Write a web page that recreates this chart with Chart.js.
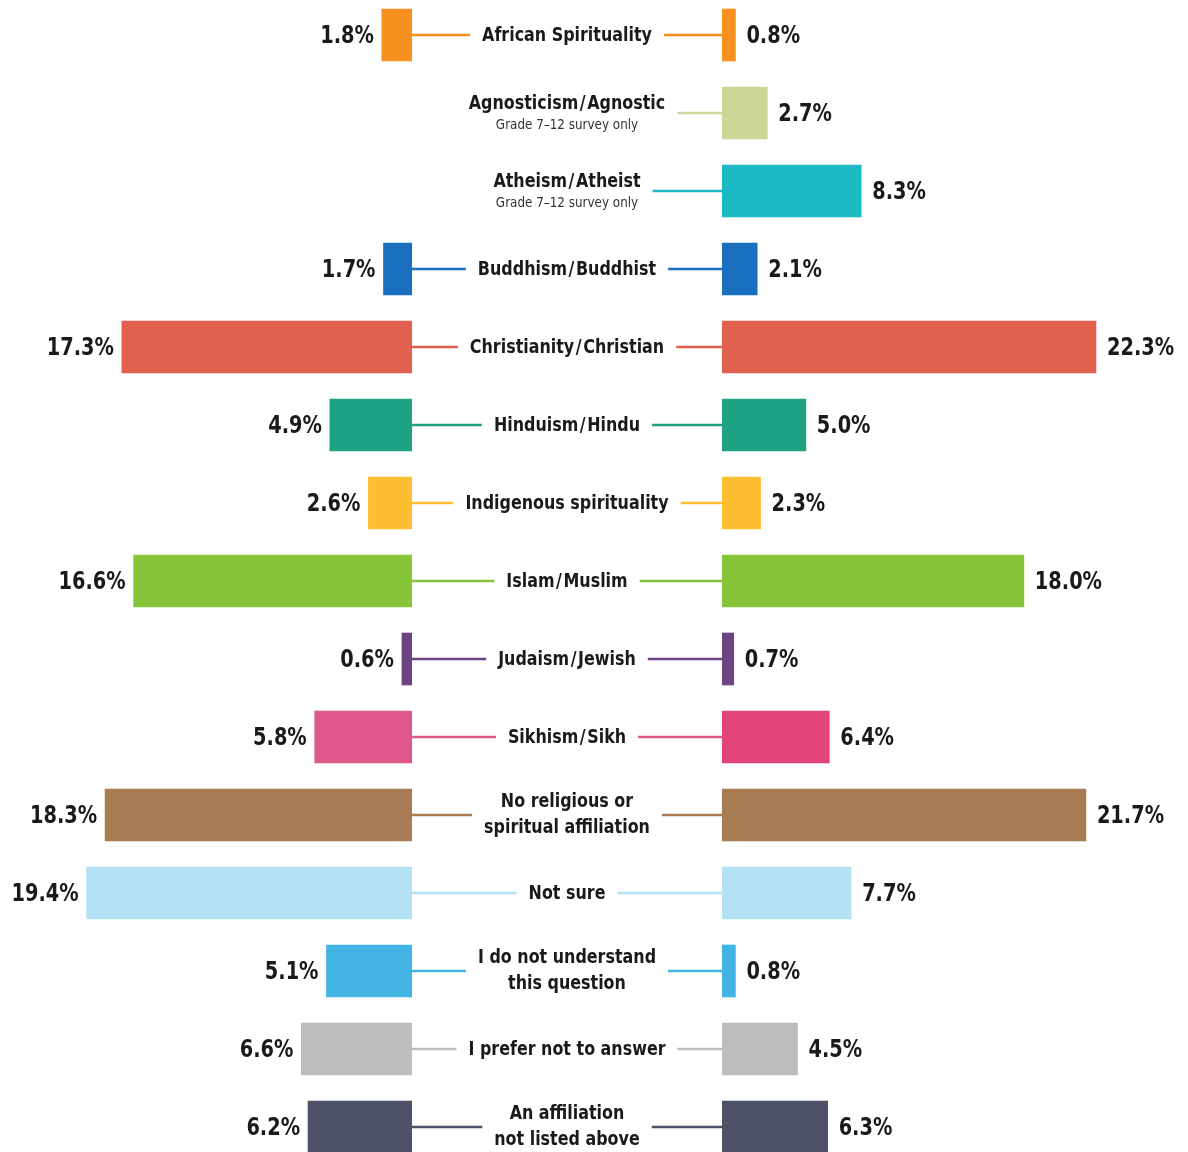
<!DOCTYPE html>
<html>
<head>
<meta charset="utf-8">
<script src="https://cdn.jsdelivr.net/npm/chart.js@4/dist/chart.umd.min.js"></script>
<style>
html,body{margin:0;padding:0;background:#fff;overflow:hidden;width:1188px;height:1152px;}
#lw{position:absolute;left:0;top:-4px;width:412px;height:1170px;}
#rw{position:absolute;left:412px;top:-4px;width:776px;height:1170px;}
</style>
</head>
<body>
<div id="lw"><canvas id="lc"></canvas></div>
<div id="rw"><canvas id="rc"></canvas></div>
<script>
const categories = [
  ["African Spirituality"],
  ["Agnosticism\u200A/\u200AAgnostic"],
  ["Atheism\u200A/\u200AAtheist"],
  ["Buddhism\u200A/\u200ABuddhist"],
  ["Christianity\u200A/\u200AChristian"],
  ["Hinduism\u200A/\u200AHindu"],
  ["Indigenous spirituality"],
  ["Islam\u200A/\u200AMuslim"],
  ["Judaism\u200A/\u200AJewish"],
  ["Sikhism\u200A/\u200ASikh"],
  ["No religious or", "spiritual affiliation"],
  ["Not sure"],
  ["I do not understand", "this question"],
  ["I prefer not to answer"],
  ["An affiliation", "not listed above"]
];
const subtitles = ["", "Grade 7\u201312 survey only", "Grade 7\u201312 survey only", "", "", "", "", "", "", "", "", "", "", "", ""];
const leftValues  = [1.8, null, null, 1.7, 17.3, 4.9, 2.6, 16.6, 0.6, 5.8, 18.3, 19.4, 5.1, 6.6, 6.2];
const rightValues = [0.8, 2.7, 8.3, 2.1, 22.3, 5.0, 2.3, 18.0, 0.7, 6.4, 21.7, 7.7, 0.8, 4.5, 6.3];
const colors = ["#F7901E","#CDD597","#1CB8C4","#1B6FBF","#E2604E","#1DA384","#FDBE31","#86C53A","#6C4481","#E0578A","#A87B53","#B3E1F3","#42B4E4","#BCBDBF","#4D5268"];
const rightColors = ["#F7901E","#CDD597","#1CB8C4","#1B6FBF","#E2604E","#1DA384","#FDBE31","#86C53A","#6C4481","#E0447B","#A87B53","#B3E1F3","#42B4E4","#BCBDBF","#4D5268"];

const FONT = "'Liberation Sans Narrow','DejaVu Sans Condensed','Roboto Condensed',sans-serif";
const TXT = "#1a1a1a";
const labelKeys = categories.map((c, i) => String(i));

function fmt(v){ return v.toFixed(1) + "%"; }

// draw text horizontally condensed
function sText(ctx, t, x, y, sx){
  ctx.save();
  ctx.translate(x, y);
  ctx.scale(sx, 1);
  ctx.fillText(t, 0, 0);
  ctx.restore();
}

const VSX = 0.86, CSX = 0.885, SSX = 0.95;

const leftLabels = {
  id: 'leftLabels',
  afterDatasetsDraw(chart){
    const ctx = chart.ctx;
    const meta = chart.getDatasetMeta(0);
    ctx.save();
    ctx.font = "bold 25px " + FONT;
    ctx.fillStyle = TXT;
    ctx.textAlign = "right";
    ctx.textBaseline = "middle";
    meta.data.forEach((bar, i) => {
      const v = leftValues[i];
      if (v == null) return;
      sText(ctx, fmt(v), bar.x - 8, bar.y + 1, VSX);
    });
    ctx.restore();
  }
};

const rightLabels = {
  id: 'rightLabels',
  afterDatasetsDraw(chart){
    const ctx = chart.ctx;
    const meta = chart.getDatasetMeta(0);
    const area = chart.chartArea;
    const cx = area.left / 2;
    ctx.save();
    ctx.textBaseline = "middle";
    meta.data.forEach((bar, i) => {
      const v = rightValues[i];
      ctx.font = "bold 25px " + FONT;
      ctx.fillStyle = TXT;
      ctx.textAlign = "left";
      sText(ctx, fmt(v), bar.x + 11, bar.y + 1, VSX);

      // center label
      const lines = categories[i];
      const sub = subtitles[i];
      ctx.font = "bold 20px " + FONT;
      let w = 0;
      lines.forEach(t => { w = Math.max(w, ctx.measureText(t).width * CSX); });
      ctx.textAlign = "center";
      const y = bar.y;
      if (sub) {
        sText(ctx, lines[0], cx, y - 9, CSX);
        ctx.font = "14px " + FONT;
        ctx.fillStyle = "#333";
        sText(ctx, sub, cx, y + 12, SSX);
      } else if (lines.length === 2) {
        sText(ctx, lines[0], cx, y - 13, CSX);
        sText(ctx, lines[1], cx, y + 13, CSX);
      } else {
        sText(ctx, lines[0], cx, y + 1, CSX);
      }
      // connectors
      ctx.strokeStyle = colors[i];
      ctx.lineWidth = 2.5;
      const gap = 12;
      ctx.beginPath();
      ctx.moveTo(cx + w / 2 + gap, y);
      ctx.lineTo(area.left, y);
      if (leftValues[i] != null) {
        ctx.moveTo(0, y);
        ctx.lineTo(cx - w / 2 - gap, y);
      }
      ctx.stroke();
    });
    ctx.restore();
  }
};

const PXPER = 16.77;

new Chart(document.getElementById('lc'), {
  type: 'bar',
  data: {
    labels: labelKeys,
    datasets: [{ data: leftValues, backgroundColor: colors, barThickness: 52, borderWidth: 0 }]
  },
  options: {
    indexAxis: 'y',
    responsive: true, maintainAspectRatio: false, animation: false,
    layout: { padding: 0 },
    plugins: { legend: { display: false }, tooltip: { enabled: false } },
    scales: {
      x: { display: false, min: 0, max: 412 / PXPER, reverse: true },
      y: { display: false }
    }
  },
  plugins: [leftLabels]
});

new Chart(document.getElementById('rc'), {
  type: 'bar',
  data: {
    labels: labelKeys,
    datasets: [{ data: rightValues, backgroundColor: rightColors, barThickness: 52, borderWidth: 0 }]
  },
  options: {
    indexAxis: 'y',
    responsive: true, maintainAspectRatio: false, animation: false,
    layout: { padding: { left: 310, right: 0, top: 0, bottom: 0 } },
    plugins: { legend: { display: false }, tooltip: { enabled: false } },
    scales: {
      x: { display: false, min: 0, max: 466 / PXPER },
      y: { display: false }
    }
  },
  plugins: [rightLabels]
});
</script>
</body>
</html>
